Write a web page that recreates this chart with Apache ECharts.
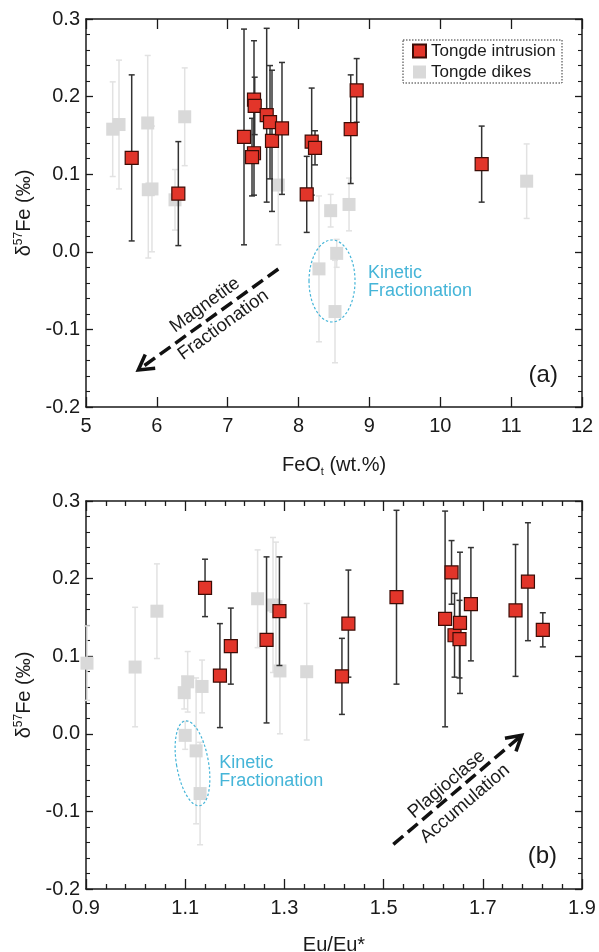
<!DOCTYPE html>
<html>
<head>
<meta charset="utf-8">
<script src="https://cdn.jsdelivr.net/npm/echarts@6/dist/echarts.min.js"></script>
<style>
  html, body { margin: 0; padding: 0; background: #ffffff; }
  #chart { width: 599px; height: 952px; }
</style>
</head>
<body>
<div id="chart"></div>
<script>
// ---- Tongde intrusion: FeOt (wt.%), Eu/Eu*, δ57Fe (‰) and 2SD ----
const feoIntrusion = [5.645, 6.303, 7.230, 7.371, 7.381, 7.371, 7.343, 7.550, 7.597, 7.625, 7.766, 8.115, 8.185, 8.232, 8.736, 8.820, 10.584];
const euIntrusion  = [1.264, 1.170, 1.624, 1.791, 1.140, 1.643, 1.653, 1.526, 1.676, 1.654, 1.766, 1.416, 1.429, 1.821, 1.290, 1.637, 1.192];
const d57Intrusion = [0.121, 0.075, 0.148, 0.196, 0.188, 0.127, 0.122, 0.176, 0.167, 0.143, 0.159, 0.074, 0.142, 0.134, 0.158, 0.208, 0.113];
const errIntrusion = [0.107, 0.067, 0.139, 0.076, 0.037, 0.054, 0.050, 0.112, 0.073, 0.091, 0.085, 0.049, 0.069, 0.022, 0.070, 0.041, 0.049];

// ---- Tongde dikes ----
const feoDike = [5.377, 5.466, 5.871, 5.879, 5.931, 6.256, 6.393, 7.714, 8.453, 8.712, 11.219, 8.288, 8.538, 8.514];
const euDike  = [1.043, 1.283, 1.277, 1.345, 1.291, 1.105, 1.246, 0.999, 1.098, 1.134, 0.902, 1.122, 1.100, 1.130];
const d57Dike = [0.158, 0.164, 0.166, 0.080, 0.081, 0.067, 0.174, 0.086, 0.053, 0.061, 0.091, -0.022, -0.002, -0.077];
const errDike = [0.061, 0.083, 0.087, 0.088, 0.081, 0.039, 0.063, 0.077, 0.021, 0.034, 0.048, 0.094, 0.018, 0.066];

// ---- axis ticks ----
const euMajorTicks = [0.9, 1.1, 1.3, 1.5, 1.7, 1.9];
const euMinorTicks = [];
for (let i = 0; i < euMajorTicks.length - 1; i++) {
  for (let k = 1; k < 5; k++) {
    euMinorTicks.push(+(euMajorTicks[i] + k * 0.04).toFixed(2));
  }
}

const FONT = '"Liberation Sans", Arial, Helvetica, sans-serif';
const INK = '#1a1a1a';
const RED = '#e2352a';
const RED_EDGE = '#3d0c06';
const GREY = '#d9d9d9';
const GREY_BAR = '#e2e2e2';
const CYAN = '#45b5d8';

const chart = echarts.init(document.getElementById('chart'), null, { renderer: 'canvas' });

const axisLineStyle = { color: INK, width: 1.5 };
const tickLineStyle = { color: INK, width: 1.3 };

function fmt1(v) {
  if (Math.abs(v) < 1e-9) return '0.0';
  return v.toFixed(1);
}

function yAxisDef(gridIndex, position, withLabels) {
  const ax = {
    type: 'value', gridIndex, position,
    min: -0.2, max: 0.3, interval: 0.1,
    axisLine: { show: true, onZero: false, lineStyle: axisLineStyle },
    axisTick: { show: true, inside: true, length: 7, lineStyle: tickLineStyle },
    minorTick: { show: true, splitNumber: 5, length: 4, lineStyle: { color: INK, width: 1.1 } },
    axisLabel: { show: withLabels, fontSize: 20, color: INK, fontFamily: FONT, margin: 6, formatter: fmt1 },
    splitLine: { show: false },
    minorSplitLine: { show: false }
  };
  if (withLabels) {
    ax.name = '{a|δ}{s|57}{a|Fe (‰)}';
    ax.nameLocation = 'middle';
    ax.nameGap = 46;
    ax.nameTextStyle = {
      rich: {
        a: { fontSize: 20, fontFamily: FONT, color: INK, lineHeight: 24 },
        s: { fontSize: 12, fontFamily: FONT, color: INK, lineHeight: 12, verticalAlign: 'top' }
      }
    };
  }
  return ax;
}

function feoAxis(position, withLabels) {
  const ax = {
    type: 'value', gridIndex: 0, position,
    min: 5, max: 12, interval: 1,
    axisLine: { show: true, onZero: false, lineStyle: axisLineStyle },
    axisTick: { show: true, inside: true, length: 10, lineStyle: tickLineStyle },
    axisLabel: { show: withLabels, fontSize: 20, color: INK, fontFamily: FONT, margin: 9 },
    splitLine: { show: false }
  };
  if (withLabels) {
    ax.name = '{a|FeO}{s|t}{a| (wt.%)}';
    ax.nameLocation = 'middle';
    ax.nameGap = 46;
    ax.nameTextStyle = {
      rich: {
        a: { fontSize: 20, fontFamily: FONT, color: INK, lineHeight: 24 },
        s: { fontSize: 11, fontFamily: FONT, color: INK, lineHeight: 11, verticalAlign: 'bottom' }
      }
    };
  }
  return ax;
}

function euAxis(position, ticks, tickLen, withLine, withLabels) {
  const ax = {
    type: 'value', gridIndex: 1, position,
    min: 0.9, max: 1.9,
    axisLine: { show: withLine, onZero: false, lineStyle: axisLineStyle },
    axisTick: { show: true, inside: true, length: tickLen, customValues: ticks, lineStyle: tickLineStyle },
    axisLabel: withLabels
      ? { show: true, customValues: euMajorTicks, fontSize: 20, color: INK, fontFamily: FONT, margin: 9, formatter: fmt1 }
      : { show: false },
    splitLine: { show: false }
  };
  if (withLabels) {
    ax.name = 'Eu/Eu*';
    ax.nameLocation = 'middle';
    ax.nameGap = 46;
    ax.nameTextStyle = { fontSize: 20, fontFamily: FONT, color: INK };
  }
  return ax;
}

function errorBars(xIdx, yIdx, xs, ys, es, color, z) {
  return {
    type: 'custom', xAxisIndex: xIdx, yAxisIndex: yIdx, silent: true, z, clip: false,
    data: xs.map((x, i) => [x, ys[i], es[i]]),
    encode: { x: 0, y: 1 },
    renderItem(params, api) {
      const x = api.value(0), y = api.value(1), e = api.value(2);
      const top = api.coord([x, y + e]);
      const bot = api.coord([x, y - e]);
      const cap = 3;
      const st = { stroke: color, lineWidth: 1.5, fill: null };
      return {
        type: 'group',
        children: [
          { type: 'line', shape: { x1: top[0], y1: top[1], x2: bot[0], y2: bot[1] }, style: st },
          { type: 'line', shape: { x1: top[0] - cap, y1: top[1], x2: top[0] + cap, y2: top[1] }, style: st },
          { type: 'line', shape: { x1: bot[0] - cap, y1: bot[1], x2: bot[0] + cap, y2: bot[1] }, style: st }
        ]
      };
    }
  };
}

function points(name, xIdx, yIdx, xs, ys, style, z) {
  return {
    type: 'scatter', name, xAxisIndex: xIdx, yAxisIndex: yIdx, z, clip: false,
    symbol: 'rect', symbolSize: 13, silent: true,
    itemStyle: style,
    emphasis: { disabled: true },
    data: xs.map((x, i) => [x, ys[i]])
  };
}

const intrusionStyle = { color: RED, borderColor: RED_EDGE, borderWidth: 1.2, opacity: 1 };
const dikeStyle = { color: GREY, opacity: 1 };

const option = {
  animation: false,
  backgroundColor: '#ffffff',
  textStyle: { fontFamily: FONT },
  grid: [
    { left: 86, right: 17, top: 19, height: 388, outerBoundsMode: 'none' },
    { left: 86, right: 17, top: 501, height: 388, outerBoundsMode: 'none' }
  ],
  xAxis: [
    feoAxis('bottom', true),
    feoAxis('top', false),
    euAxis('bottom', euMajorTicks, 10, true, true),
    euAxis('top', euMajorTicks, 10, true, false),
    euAxis('bottom', euMinorTicks, 5, false, false),
    euAxis('top', euMinorTicks, 5, false, false)
  ],
  yAxis: [
    yAxisDef(0, 'left', true),
    yAxisDef(0, 'right', false),
    yAxisDef(1, 'left', true),
    yAxisDef(1, 'right', false)
  ],
  legend: {
    data: ['Tongde intrusion', 'Tongde dikes'],
    orient: 'vertical',
    left: 412, top: 42.5,
    padding: 0,
    itemWidth: 13, itemHeight: 13, itemGap: 4,
    selectedMode: false,
    textStyle: { fontSize: 17, lineHeight: 17, color: INK, fontFamily: FONT }
  },
  series: [
    // (a) δ57Fe vs FeOt
    errorBars(0, 0, feoDike, d57Dike, errDike, GREY_BAR, 2),
    points('Tongde dikes', 0, 0, feoDike, d57Dike, dikeStyle, 3),
    errorBars(0, 0, feoIntrusion, d57Intrusion, errIntrusion, '#333333', 4),
    points('Tongde intrusion', 0, 0, feoIntrusion, d57Intrusion, intrusionStyle, 5),
    // (b) δ57Fe vs Eu/Eu*
    errorBars(2, 2, euDike, d57Dike, errDike, GREY_BAR, 2),
    points('Tongde dikes', 2, 2, euDike, d57Dike, dikeStyle, 3),
    errorBars(2, 2, euIntrusion, d57Intrusion, errIntrusion, '#333333', 4),
    points('Tongde intrusion', 2, 2, euIntrusion, d57Intrusion, intrusionStyle, 5)
  ]
};

chart.setOption(option);

// ---- annotations, anchored in data units of each panel ----
const finderA = { xAxisIndex: 0, yAxisIndex: 0 };
const finderB = { xAxisIndex: 2, yAxisIndex: 2 };
const toPx = (finder, pt) => chart.convertToPixel(finder, pt);

function textEl(text, pos, size, color, align, rotation) {
  return {
    type: 'text', x: pos[0], y: pos[1], rotation: rotation || 0, z: 100, silent: true,
    style: {
      text, fill: color, fontSize: size, fontFamily: FONT,
      align, verticalAlign: 'middle', textAlign: align, textVerticalAlign: 'middle'
    }
  };
}

function ellipseEl(center, rx, ry, rotation) {
  return {
    type: 'ellipse', x: center[0], y: center[1], rotation, z: 100, silent: true,
    shape: { cx: 0, cy: 0, rx, ry },
    style: { fill: null, stroke: CYAN, lineWidth: 1.2, lineDash: [2.5, 2] }
  };
}

function arrowEls(tail, tip) {
  const dx = tail[0] - tip[0], dy = tail[1] - tip[1];
  const len = Math.hypot(dx, dy);
  const ux = dx / len, uy = dy / len;
  const arm = 17, ang = Math.PI / 6;
  const rot = (a) => [ux * Math.cos(a) - uy * Math.sin(a), ux * Math.sin(a) + uy * Math.cos(a)];
  const r1 = rot(ang), r2 = rot(-ang);
  const end = [tip[0] + ux * 3, tip[1] + uy * 3];
  return [
    {
      type: 'line', z: 100, silent: true,
      shape: { x1: tail[0], y1: tail[1], x2: end[0], y2: end[1] },
      style: { stroke: '#111111', lineWidth: 3.5, lineDash: [13, 6] }
    },
    {
      type: 'polyline', z: 100, silent: true,
      shape: { points: [[tip[0] + r1[0] * arm, tip[1] + r1[1] * arm], tip, [tip[0] + r2[0] * arm, tip[1] + r2[1] * arm]] },
      style: { stroke: '#111111', lineWidth: 3.5, fill: null, lineJoin: 'miter' }
    }
  ];
}

const angA = Math.atan2(101, 140);
const angB = Math.atan2(109, 128);

const graphics = [
  // legend frame
  {
    type: 'rect', z: 90, silent: true,
    shape: { x: 403, y: 40, width: 159, height: 43 },
    style: { fill: null, stroke: '#333333', lineWidth: 1, lineDash: [1.5, 1.5] }
  },
  // panel (a)
  ellipseEl(toPx(finderA, [8.472, -0.0376]), 23, 41, 0),
  textEl('Kinetic', toPx(finderA, [8.98, -0.0269]), 18, CYAN, 'left'),
  textEl('Fractionation', toPx(finderA, [8.98, -0.0501]), 18, CYAN, 'left'),
  ...arrowEls(toPx(finderA, [7.714, -0.0222]), toPx(finderA, [5.738, -0.1523])),
  textEl('Magnetite', toPx(finderA, [6.679, -0.0686]), 18.5, INK, 'center', angA),
  textEl('Fractionation', toPx(finderA, [6.938, -0.0943]), 18.5, INK, 'center', angA),
  textEl('(a)', toPx(finderA, [11.453, -0.1588]), 24, INK, 'center'),
  // panel (b)
  ellipseEl(toPx(finderB, [1.1147, -0.038]), 16, 43, 0.17),
  textEl('Kinetic', toPx(finderB, [1.1688, -0.0377]), 18, CYAN, 'left'),
  textEl('Fractionation', toPx(finderB, [1.1688, -0.0613]), 18, CYAN, 'left'),
  ...arrowEls(toPx(finderB, [1.5196, -0.1426]), toPx(finderB, [1.7784, -0.0019])),
  textEl('Plagioclase', toPx(finderB, [1.6272, -0.0652]), 18.5, INK, 'center', angB),
  textEl('Accumulation', toPx(finderB, [1.6641, -0.0901]), 18.5, INK, 'center', angB),
  textEl('(b)', toPx(finderB, [1.82, -0.1577]), 24, INK, 'center')
];

chart.setOption({ graphic: graphics });
</script>
</body>
</html>
